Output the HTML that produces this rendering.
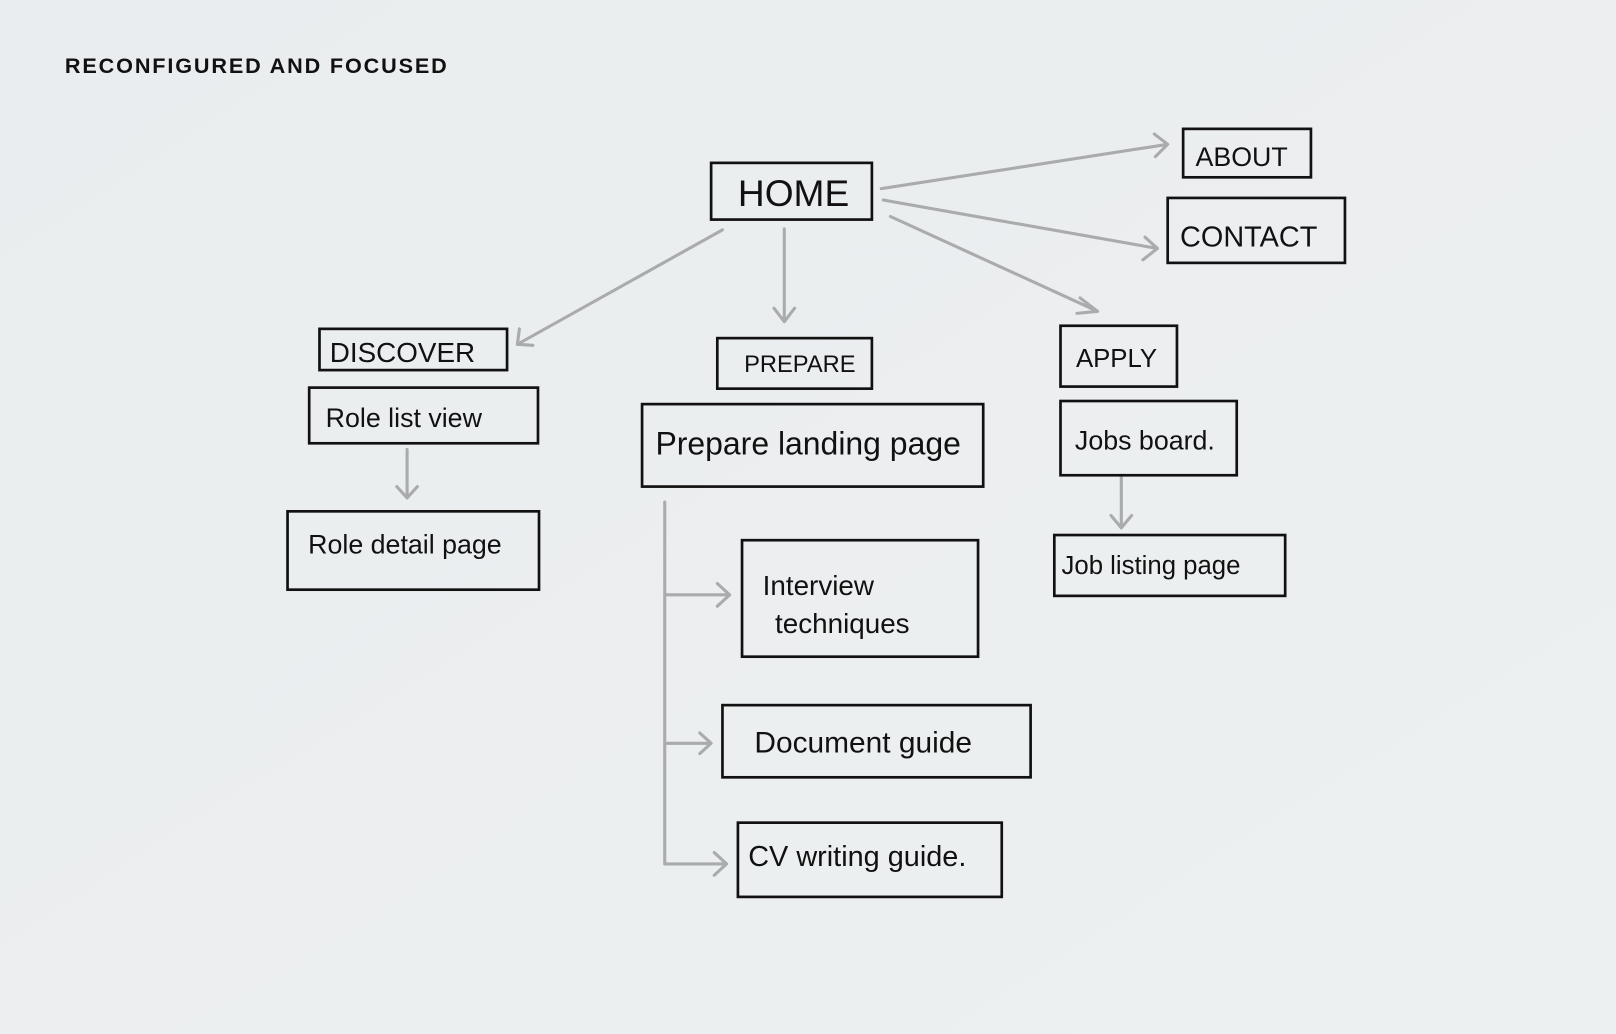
<!DOCTYPE html>
<html><head><meta charset="utf-8">
<style>
html,body{margin:0;padding:0;background:#eceff0;}
svg{display:block}
.b{fill:none;stroke:#111;stroke-width:2.6}
.a{fill:none;stroke:#a9abad;stroke-width:3;stroke-linecap:round;stroke-linejoin:round}
.t{font-family:"Liberation Sans",sans-serif;fill:#111}
</style></head><body>
<svg width="1616" height="1034" viewBox="0 0 1568 1003" preserveAspectRatio="none">
<defs>
<linearGradient id="g" x1="0" y1="0" x2="1" y2="1"><stop offset="0" stop-color="#eaedef"/><stop offset="1" stop-color="#edf0f0"/></linearGradient>
</defs>
<rect width="1568" height="1003" fill="url(#g)"/>
<text x="63" y="71" font-family="Liberation Sans,sans-serif" font-weight="bold" font-size="21" letter-spacing="1.8" fill="#111">RECONFIGURED AND FOCUSED</text>

<g class="a">
<path d="M855 183 L1133 140 M1120 130 L1133 140 L1121 152"/>
<path d="M857 194 L1123 241 M1111 230 L1123 241 L1109 252"/>
<path d="M864 210 L1065 302 M1048 289 L1065 302 L1045 304"/>
<path d="M761 222 L761 312 M751 299 L761 312 L771 299"/>
<path d="M701 223 L502 334 M504 319 L502 334 L517 335"/>
<path d="M395 436 L395 483 M385 472 L395 483 L405 472"/>
<path d="M1088 461 L1088 512 M1078 500 L1088 512 L1098 500"/>
<path d="M645 487 L645 838 M645 577 L708 577 M696 566 L708 577 L696 588"/>
<path d="M645 721 L690 721 M679 711 L690 721 L679 731"/>
<path d="M645 838 L705 838 M693 827 L705 838 L693 849"/>
</g>

<g class="b">
<rect x="690" y="158" width="156" height="55"/>
<rect x="1148" y="125" width="124" height="47"/>
<rect x="1133" y="192" width="172" height="63"/>
<rect x="310" y="319" width="182" height="40"/>
<rect x="300" y="376" width="222" height="54"/>
<rect x="279" y="496" width="244" height="76"/>
<rect x="696" y="328" width="150" height="49"/>
<rect x="623" y="392" width="331" height="80"/>
<rect x="720" y="524" width="229" height="113"/>
<rect x="701" y="684" width="299" height="70"/>
<rect x="716" y="798" width="256" height="72"/>
<rect x="1029" y="316" width="113" height="59"/>
<rect x="1029" y="389" width="171" height="72"/>
<rect x="1023" y="519" width="224" height="59"/>
</g>

<g class="t">
<text x="716" y="200" font-size="36">HOME</text>
<text x="1160" y="161" font-size="26">ABOUT</text>
<text x="1145" y="239" font-size="28">CONTACT</text>
<text x="320" y="351" font-size="27">DISCOVER</text>
<text x="316" y="414" font-size="26">Role list view</text>
<text x="299" y="537" font-size="26">Role detail page</text>
<text x="722" y="361" font-size="23">PREPARE</text>
<text x="636" y="441" font-size="31">Prepare landing page</text>
<text x="740" y="577" font-size="27">Interview</text>
<text x="752" y="614" font-size="27">techniques</text>
<text x="732" y="730" font-size="29">Document guide</text>
<text x="726" y="840" font-size="28">CV writing guide.</text>
<text x="1044" y="356" font-size="25">APPLY</text>
<text x="1043" y="436" font-size="26">Jobs board.</text>
<text x="1030" y="557" font-size="25">Job listing page</text>
</g>
</svg>
</body></html>
